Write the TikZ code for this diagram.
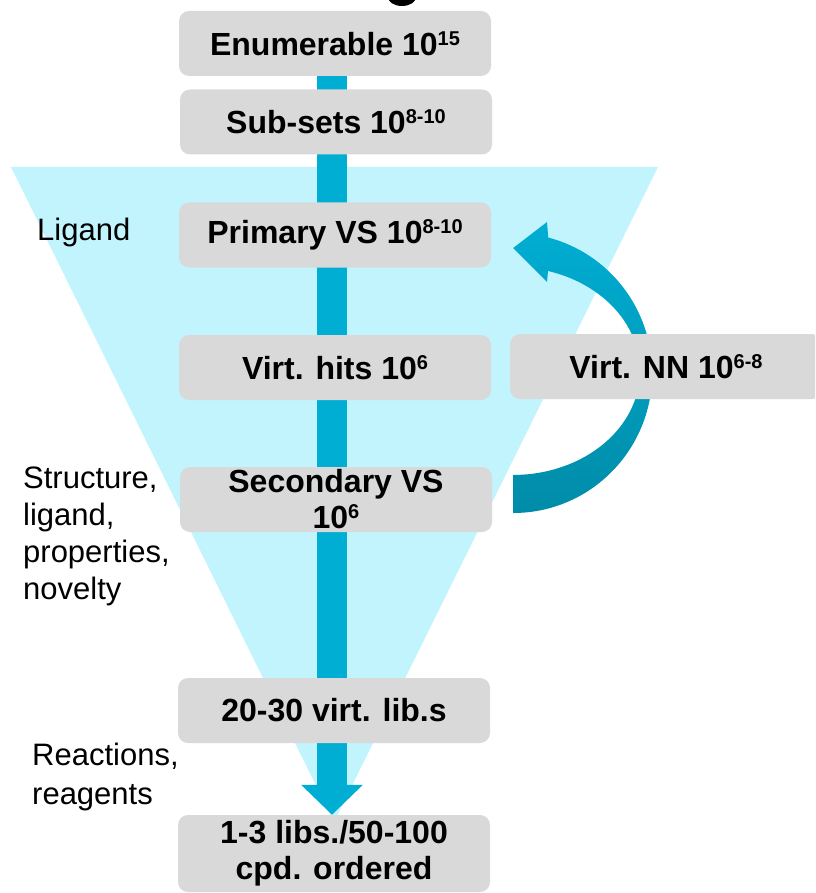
\documentclass[tikz,border=0pt]{standalone}
\usepackage{fontspec}
\setmainfont{Liberation Sans}
\usetikzlibrary{arrows.meta,calc}
\definecolor{boxgray}{HTML}{D9D9D9}
\definecolor{funnel}{HTML}{C1F4FD}
\definecolor{flow}{HTML}{00AED3}
\definecolor{flowdark}{HTML}{008CA8}
\pgfdeclarelayer{back}
\pgfsetlayers{back,main}
% raised exponent in a smaller size
\newcommand{\expo}[1]{\raisebox{10pt}{\fontsize{20}{20}\selectfont #1}}

\begin{document}
\begin{tikzpicture}[x=1pt,y=-1pt,
  stage/.style={fill=boxgray, rounded corners=10pt, minimum width=312pt,
    minimum height=65pt, inner sep=0pt, align=center,
    font=\fontsize{32}{36}\selectfont\bfseries},
  side/.style={font=\fontsize{31}{37}\selectfont, align=left, inner sep=0pt},
  pipe/.style={flow, line width=30pt, -{Triangle[width=60pt,length=30pt]}},
  loopback/.style={top color=flow, bottom color=flowdark}]

\useasboundingbox (0,0) rectangle (815,893);
\clip (0,0) rectangle (815,893);

% stages
\node[stage] (enum)  at (335,43.5)  {Enumerable 10\expo{15}};
\node[stage] (subs)  at (336,122)   {Sub-sets 10\expo{8-10}};
\node[stage] (prim)  at (335,235)   {Primary VS 10\expo{8-10}};
\node[stage] (hits)  at (335,367.5) {Virt. hits 10\expo{6}};
\node[stage] (nn)    at (666,366.5) {Virt. NN 10\expo{6-8}};
\node[stage] (sec)   at (336,499.5) {Secondary VS\\10\expo{6}};
\node[stage] (libs)  at (334,710.5) {20-30 virt. lib.s};
\node[stage, minimum height=77pt] (final) at (334,853.5) {1-3 libs./50-100\\cpd. ordered};

\begin{pgfonlayer}{back}
  % funnel
  \fill[funnel] (11,167) -- (658,167) -- (334,822) -- cycle;
  % main flow from the first stage to the last
  \draw[pipe] ([xshift=-3pt]enum.south) -- ([xshift=-2pt]final.north);
  % loop from the secondary screen back to the primary screen
  \coordinate (loopbase) at ([xshift=21pt]sec.east);
  \shade[loopback] (loopbase |- 0,513)
    arc[start angle=-90, end angle=75.4, x radius=139pt, y radius=140pt]
    -- (547,222) -- ([xshift=22pt]prim.east |- 0,248) -- (547,282) -- (548,271)
    arc[start angle=74, end angle=-90, x radius=127pt, y radius=104pt] -- cycle;
\end{pgfonlayer}

% fragment of the heading letter at the top edge
\fill[black] (402,-3) ellipse [x radius=14pt, y radius=9pt];

% side labels
\node[side, anchor=west] (lig) at (37,232) {Ligand};
\node[side, anchor=north west] (crit) at (23,467) {Structure,\\ligand,\\properties,\\novelty};
\node[side, anchor=north west, font=\fontsize{31}{39}\selectfont] (chem) at (32,743) {Reactions,\\reagents};
\end{tikzpicture}
\end{document}
